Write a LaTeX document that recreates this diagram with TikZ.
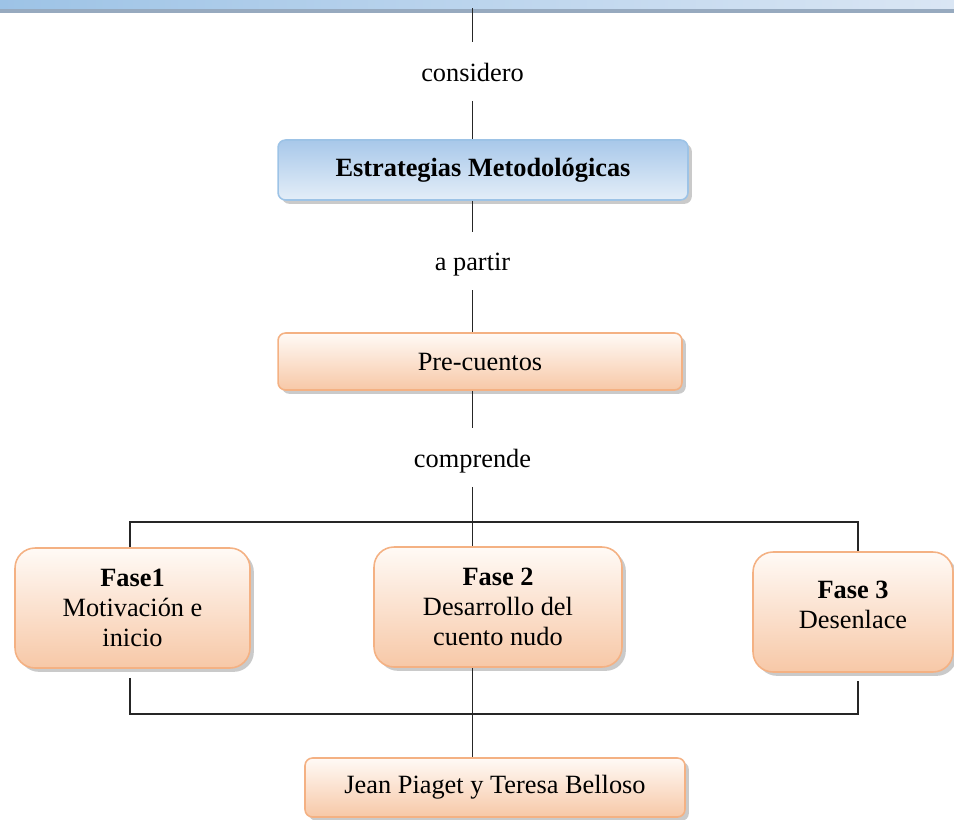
\documentclass[tikz,border=0pt]{standalone}
\usepackage{fontspec}
\setmainfont{Liberation Serif}
\usepackage{tikz}
\usetikzlibrary{calc, positioning, shadows}
\definecolor{lineaGris}{gray}{0.15}
\definecolor{azulBorde}{HTML}{9DC3E6}
\definecolor{azulArriba}{HTML}{A8C8EA}
\definecolor{azulAbajo}{HTML}{E4EEF8}
\definecolor{naranjaBorde}{HTML}{F4B183}
\definecolor{naranjaArriba}{HTML}{FFFAF6}
\definecolor{naranjaAbajo}{HTML}{F7C8A7}
\definecolor{barraIzq}{HTML}{9DC3E6}
\definecolor{barraDer}{HTML}{DAE6F4}
\definecolor{barraSombra}{HTML}{8CA1B8}

\tikzset{
  cajaAzul/.style={draw=azulBorde, line width=0.9pt, rounded corners=0.15cm,
    top color=azulArriba, bottom color=azulAbajo, align=center,
    drop shadow={shadow xshift=2.2pt, shadow yshift=-2.2pt, opacity=0.35, fill=black!60}},
  cajaNaranja/.style={draw=naranjaBorde, line width=0.9pt, rounded corners=0.15cm,
    top color=naranjaArriba, bottom color=naranjaAbajo, align=center,
    drop shadow={shadow xshift=2.2pt, shadow yshift=-2.2pt, opacity=0.35, fill=black!60}},
  cajaFase/.style={cajaNaranja, rounded corners=0.4cm, minimum height=2.4cm},
  enlace/.style={minimum height=1.16cm, inner sep=0pt, text height=2.4ex, text depth=0ex},
  conector/.style={draw=lineaGris, line width=0.9pt}
}

\begin{document}
\begin{tikzpicture}[x=0.02cm, y=-0.02cm, font=\fontsize{15}{17}\selectfont]
    \useasboundingbox (0,0) rectangle (954,819);

    % Cabecera cortada arriba
    \node[left color=barraIzq, right color=barraDer, minimum width=19.08cm, minimum height=0.16cm, inner sep=0pt,
      drop shadow={shadow xshift=0pt, shadow yshift=-2.8pt, opacity=0.9, fill=barraSombra}] (cabecera) at (477,4) {};

    % Cajas
    \node[cajaAzul, minimum width=8.2cm, minimum height=1.2cm] (estrategias) at (483,170) {\textbf{Estrategias Metodológicas}};
    \node[cajaNaranja, minimum width=8.08cm, minimum height=1.14cm] (precuentos) at (480,361.5) {Pre-cuentos};
    \node[cajaFase, minimum width=4.7cm] (fase1) at (132.5,608) {\textbf{Fase1}\\Motivación e\\inicio};
    \node[cajaFase, minimum width=4.96cm] (fase2) at (498,607) {\textbf{Fase 2}\\Desarrollo del\\cuento nudo};
    \node[cajaFase, minimum width=4.0cm] (fase3) at (853,612) {\textbf{Fase 3}\\Desenlace\\[-9pt]\mbox{}};
    \node[cajaNaranja, minimum width=7.6cm, minimum height=1.18cm] (autores) at (495,787.5) {Jean Piaget y Teresa Belloso};

    % Palabras de enlace
    \node[enlace] (considero) at (472.5,71.5) {considero};
    \node[enlace] (apartir) at (472.5,261) {a partir};
    \node[enlace] (comprende) at (472.5,457.5) {comprende};

    \coordinate (ramaIzqA) at (130,522);
    \coordinate (ramaDerA) at (858,522);
    \coordinate (ramaIzqB) at (130,714);
    \coordinate (ramaDerB) at (858,714);

    % Conectores
    \draw[conector] (cabecera.south -| considero) -- (considero.north);
    \draw[conector] (considero.south) -- (considero.south |- estrategias.north);
    \draw[conector] (apartir.north |- estrategias.south) -- (apartir.north);
    \draw[conector] (apartir.south) -- (apartir.south |- precuentos.north);
    \draw[conector] (comprende.north |- precuentos.south) -- (comprende.north);
    \draw[conector] (comprende.south) -- (comprende.south |- fase2.north);
    \draw[conector] (ramaIzqA |- fase1.north) -- (ramaIzqA) -- (ramaDerA) -- (ramaDerA |- fase3.north);
    \draw[conector] ($(ramaIzqB |- fase1.south)+(0,9)$) -- (ramaIzqB) -- (ramaDerB) -- ($(ramaDerB |- fase3.south)+(0,8)$);
    \draw[conector] (comprende.south |- fase2.south) -- (comprende.south |- autores.north);
\end{tikzpicture}
\end{document}
